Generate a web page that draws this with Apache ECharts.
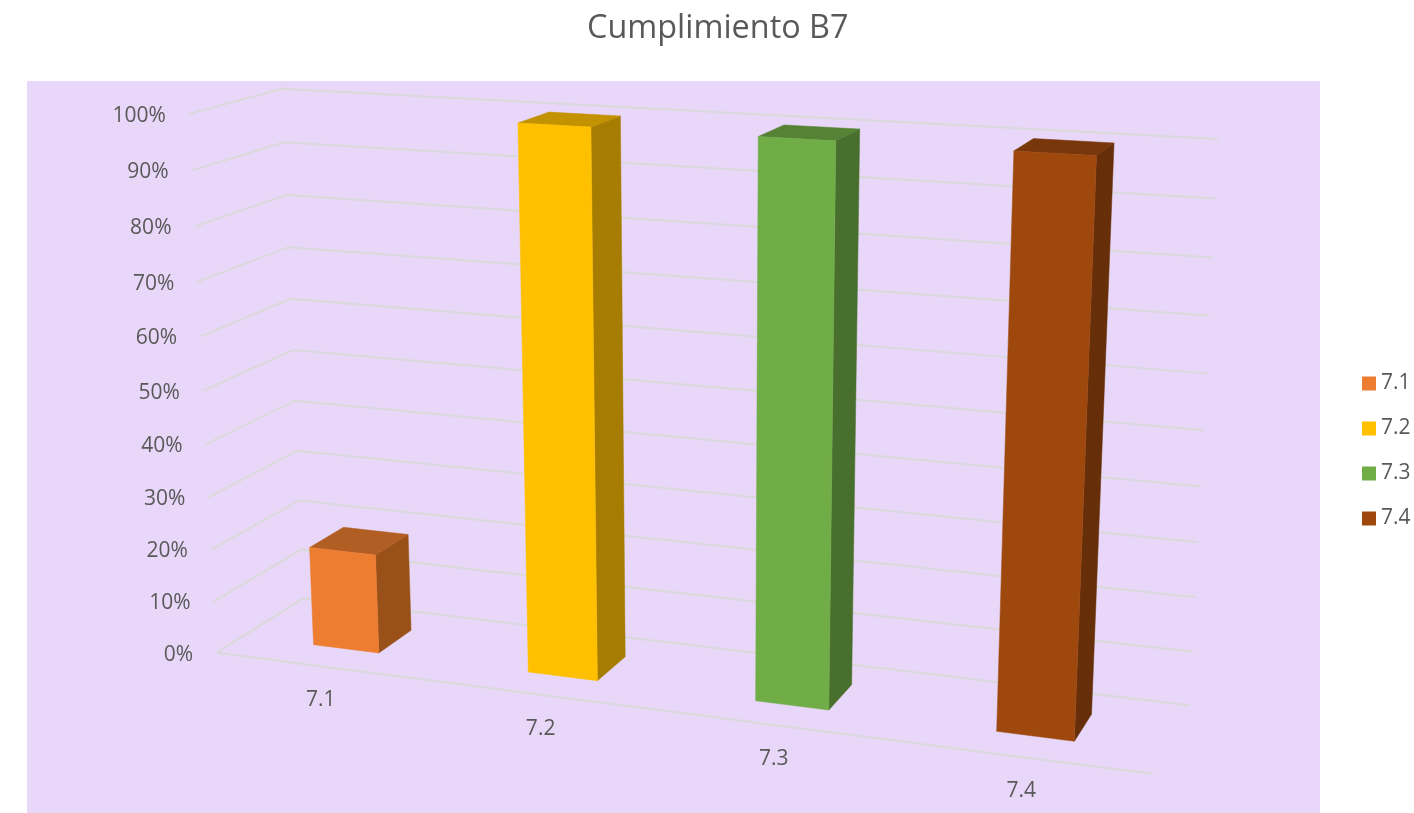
<!DOCTYPE html>
<html><head><meta charset="utf-8">
<style>html,body{margin:0;padding:0;background:#fff}#c{width:1414px;height:813px}</style>
<script src="https://cdn.jsdelivr.net/npm/echarts@6/dist/echarts.min.js"></script>
</head><body><div id="c"></div>
<script>
const categories=['7.1','7.2','7.3','7.4'];
const values=[19,100,100,100];
const colors=['#ED7D31','#FFC000','#70AD47','#9E480E'];
const topColors=['#B15E25','#C29200','#558235','#78370B'];
const sideColors=['#9A5119','#A67D00','#496F2E','#672F09'];
const ticks=[0,10,20,30,40,50,60,70,80,90,100];
const tickLabels=['0%','10%','20%','30%','40%','50%','60%','70%','80%','90%','100%'];
const FONT='"Open Sans"';
const plot={left:27,top:81,width:1293,height:732};
// camera calibration of the perspective view (box corners, not marks)
const floorCorners=[[216.7,652.7],[1152.7,774],[1190,705.5],[303.3,598.3]];
const wallTop=[[0,0,188,114],[0,1,283.3,89.3],[1,1,1218,138.3]];
function solve(A,b){const n=b.length;const M=A.map((r,i)=>r.concat(b[i]));for(let i=0;i<n;i++){let p=i;for(let k=i+1;k<n;k++)if(Math.abs(M[k][i])>Math.abs(M[p][i]))p=k;[M[i],M[p]]=[M[p],M[i]];for(let k=0;k<n;k++){if(k===i)continue;const f=M[k][i]/M[i][i];for(let j=i;j<=n;j++)M[k][j]-=f*M[i][j];}}return M.map((r,i)=>r[n]/r[i]);}
const uv=[[0,0],[1,0],[1,1],[0,1]];let A8=[],b8=[];
uv.forEach(([u,v],i)=>{const [x,y]=floorCorners[i];A8.push([u,v,1,0,0,0,-u*x,-v*x]);b8.push(x);A8.push([0,0,0,u,v,1,-u*y,-v*y]);b8.push(y);});
const s=solve(A8,b8);const H=[[s[0],s[1],s[2]],[s[3],s[4],s[5]],[s[6],s[7],1]];
const hv=(r,u,v)=>H[r][0]*u+H[r][1]*v+H[r][2];
let N=[[0,0,0],[0,0,0],[0,0,0]],R=[0,0,0];
function addEq(c,rhs){for(let i=0;i<3;i++){R[i]+=c[i]*rhs;for(let j=0;j<3;j++)N[i][j]+=c[i]*c[j];}}
wallTop.forEach(([u,v,x,y])=>{const w=hv(2,u,v);addEq([1,0,-x],x*w-hv(0,u,v));addEq([0,1,-y],y*w-hv(1,u,v));});
const ph=solve(N,R);
function project(u,v,h){const w=hv(2,u,v)+ph[2]*h;return [(hv(0,u,v)+ph[0]*h)/w,(hv(1,u,v)+ph[1]*h)/w];}
const barFrac=0.31,v0=0.298,v1=0.7,uShift=-0.0017;
function toUH(p){return [(p[0]-plot.left)/plot.width,(plot.top+plot.height-p[1])/plot.height];}
function barRender(i){return function(params,api){
 const [uc,h]=toUH(api.coord([api.value(0),api.value(1)]));
 const u=uc+uShift;
 const half=api.size([1,0])[0]/plot.width*barFrac/2;
 const u0=u-half,u1=u+half;
 const poly=(pts,fill)=>({type:'polygon',shape:{points:pts},style:{fill:fill,stroke:fill,lineWidth:0.5}});
 const lab=project(u,0,0);
 return {type:'group',children:[
  poly([project(u1,v0,0),project(u1,v1,0),project(u1,v1,h),project(u1,v0,h)],sideColors[i]),
  poly([project(u0,v0,h),project(u1,v0,h),project(u1,v1,h),project(u0,v1,h)],topColors[i]),
  poly([project(u0,v0,0),project(u1,v0,0),project(u1,v0,h),project(u0,v0,h)],colors[i]),
  {type:'text',x:lab[0],y:lab[1]+34,style:{text:categories[i],fill:'#595959',font:'21px '+FONT,textAlign:'center',textVerticalAlign:'middle'}}
 ]};
};}
function gridRender(params,api){
 const h=toUH(api.coord([0,api.value(1)]))[1];
 const a=project(0,0,h),b=project(0,1,h),c=project(1,1,h);
 const kids=[{type:'polyline',shape:{points:[a,b,c]},style:{stroke:'#D9D9D9',lineWidth:2,fill:null}},
  {type:'text',x:a[0]-23.5,y:a[1]+2,style:{text:tickLabels[params.dataIndex],fill:'#595959',font:'21px '+FONT,textAlign:'right',textVerticalAlign:'middle'}}];
 if(api.value(1)===0)kids.push({type:'polyline',shape:{points:[a,project(1,0,0)]},style:{stroke:'#D9D9D9',lineWidth:2,fill:null}});
 return {type:'group',children:kids};
}
const series=[{type:'custom',name:'grid',silent:true,z:1,renderItem:gridRender,encode:{x:0,y:1},data:ticks.map(t=>[categories[0],t])}];
categories.forEach((c,i)=>series.push({type:'custom',name:c,z:2+i,renderItem:barRender(i),encode:{x:0,y:1},itemStyle:{color:colors[i]},data:[[c,values[i]]]}));
const chart=echarts.init(document.getElementById('c'),null,{renderer:'canvas'});
chart.setOption({animation:false,backgroundColor:'#fff',
 title:{text:'Cumplimiento B7',left:587,top:13,padding:0,textStyle:{color:'#595959',fontWeight:'normal',fontFamily:FONT,fontSize:32.4}},
 legend:{data:categories,orient:'vertical',left:1362,top:373,padding:0,itemWidth:14,itemHeight:14,itemGap:24,icon:'rect',textStyle:{color:'#595959',fontSize:21,fontFamily:FONT}},
 grid:{show:true,left:plot.left,top:plot.top,width:plot.width,height:plot.height,backgroundColor:'#E8D7F9',borderWidth:0},
 xAxis:{type:'category',data:categories,show:false},
 yAxis:{type:'value',min:0,max:100,interval:10,show:false},
 series});
</script></body></html>
